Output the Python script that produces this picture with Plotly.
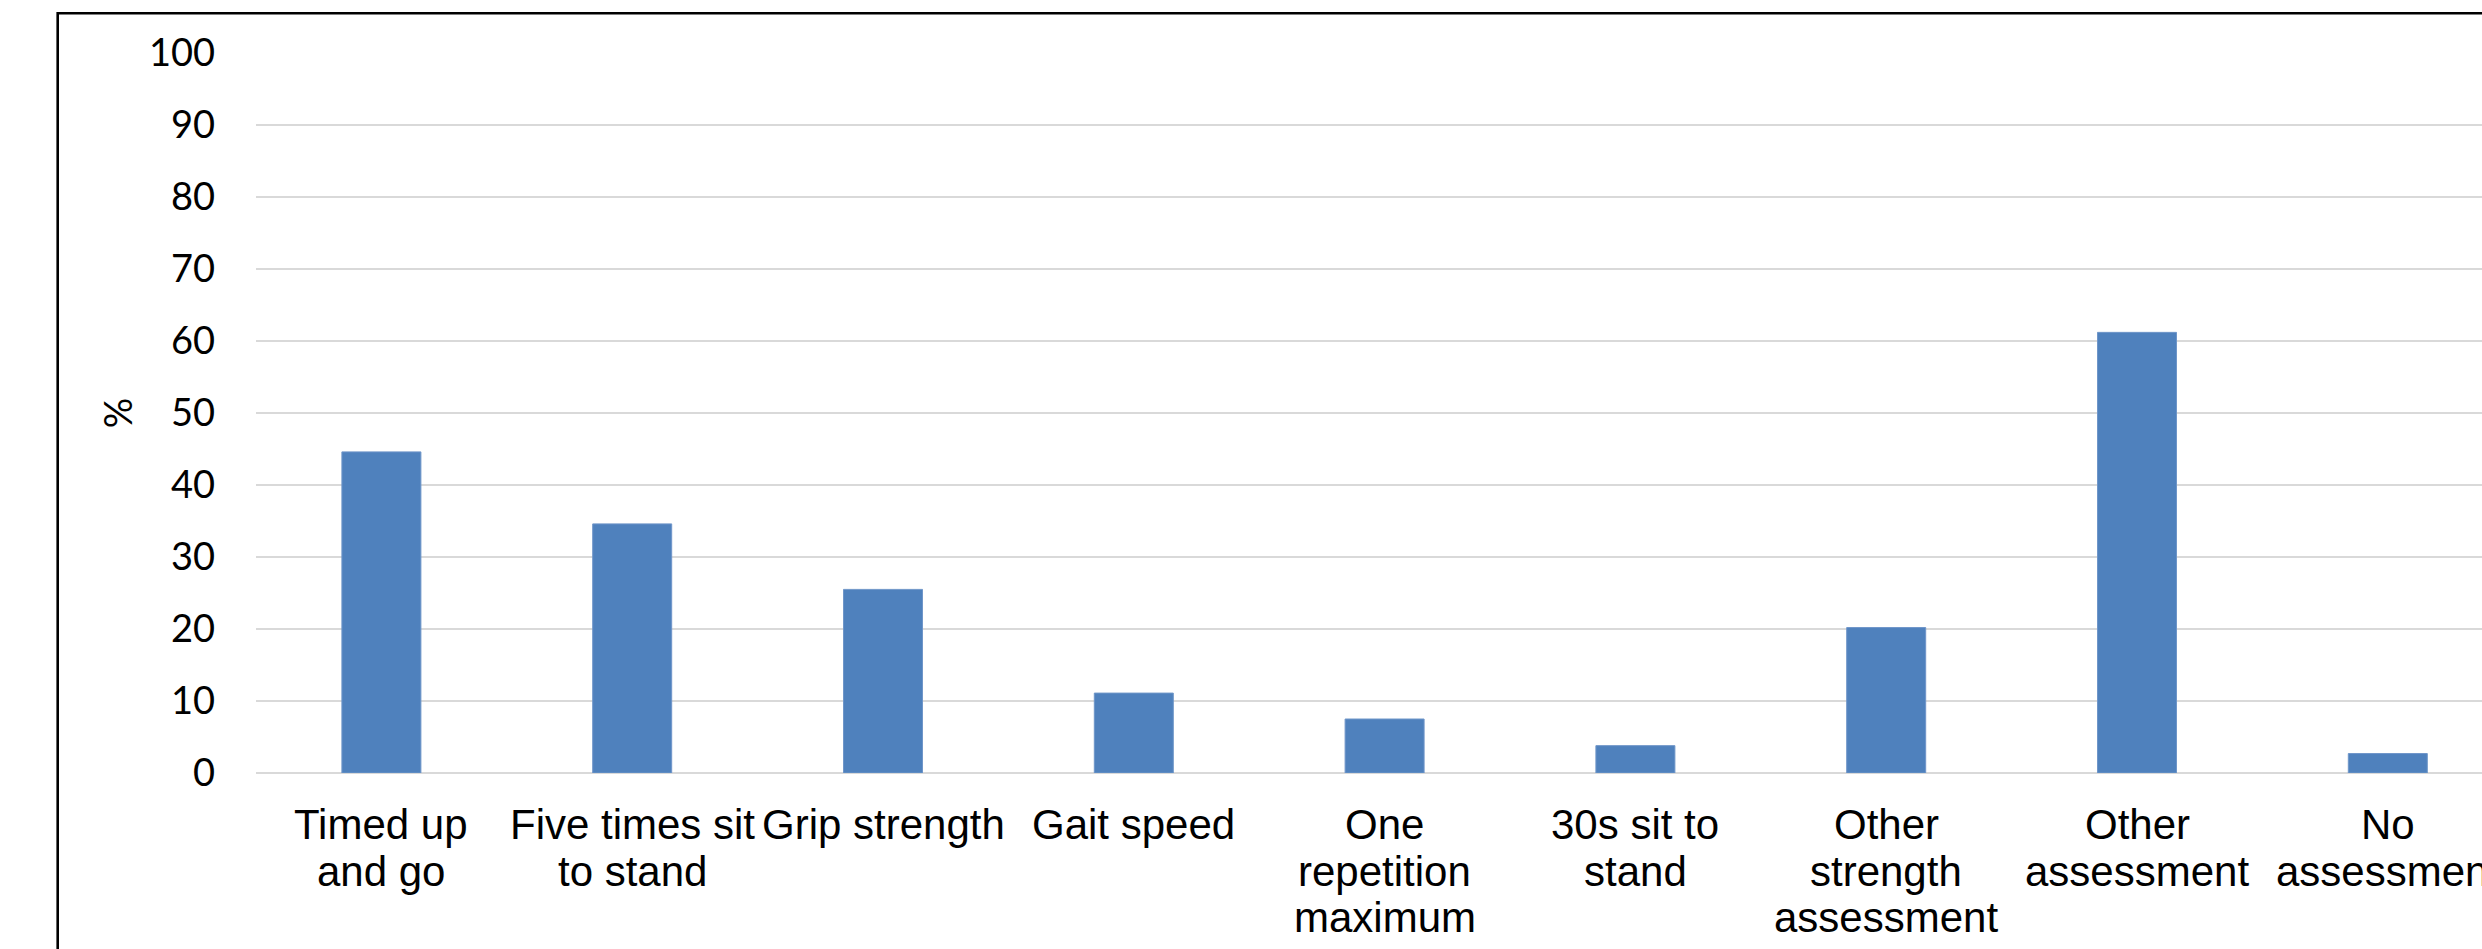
import plotly.graph_objects as go

# Share of respondents using each physical assessment (%)
categories = [
    "Timed up<br>and go",
    "Five times sit<br>to stand",
    "Grip strength",
    "Gait speed",
    "One<br>repetition<br>maximum",
    "30s sit to<br>stand",
    "Other<br>strength<br>assessment",
    "Other<br>assessment",
    "No<br>assessment",
]
percentages = [44.6, 34.6, 25.5, 11.1, 7.5, 3.8, 20.2, 61.2, 2.7]
y_ticks = list(range(0, 101, 10))

W, H = 2482, 949
ML, MT, MB = 256, 53, 176
plot_w = W - ML
plot_h = H - MT - MB
cat_px = 250.8  # width of one category slot in pixels

fig = go.Figure(
    go.Bar(
        x=list(range(len(categories))),
        y=percentages,
        marker=dict(color="#4F81BD", line=dict(color="#6F96C9", width=1)),
        hoverinfo="skip",
    )
)

label_font = dict(family="Liberation Sans, Arial, sans-serif", size=42, color="#000000")
num_font = dict(family="Lato, Open Sans, sans-serif", size=38, color="#000000")

fig.update_layout(
    width=W,
    height=H,
    margin=dict(l=ML, r=0, t=MT, b=MB, pad=0),
    paper_bgcolor="white",
    plot_bgcolor="white",
    showlegend=False,
    bargap=0.685,
    xaxis=dict(
        range=[-0.5, -0.5 + plot_w / cat_px],
        tickvals=list(range(len(categories))),
        showticklabels=False,
        showgrid=False,
        zeroline=False,
        showline=False,
        ticks="",
    ),
    yaxis=dict(
        range=[0, 100],
        tickmode="array",
        tickvals=y_ticks,
        ticktext=[str(v) for v in y_ticks],
        tickfont=num_font,
        showgrid=True,
        gridcolor="#D9D9D9",
        gridwidth=1.6,
        zeroline=True,
        zerolinecolor="#D9D9D9",
        zerolinewidth=1.6,
        showline=False,
        ticks="",
        ticklabelstandoff=40,
        title=dict(text="%", font=num_font, standoff=4),
    ),
)

# Category labels, one text line at a time with tight line spacing
first_line_gap = 26
line_step = 46.7
for i, label in enumerate(categories):
    for j, line in enumerate(label.split("<br>")):
        fig.add_annotation(
            x=i, xref="x",
            y=0, yref="paper",
            text=line,
            showarrow=False,
            xanchor="center", yanchor="top",
            yshift=-(first_line_gap + j * line_step),
            font=label_font,
        )

# Chart-area frame (left and top edges visible, the rest runs off the page)
frame_left_px, frame_top_px = 57.7, 13.3
fig.add_shape(
    type="rect",
    xref="paper", yref="paper",
    x0=(frame_left_px - ML) / plot_w, x1=1.2,
    y0=-0.6, y1=1 + (MT - frame_top_px) / plot_h,
    line=dict(color="#000000", width=2.6),
    fillcolor="rgba(0,0,0,0)",
)

fig.write_html("out.html")
